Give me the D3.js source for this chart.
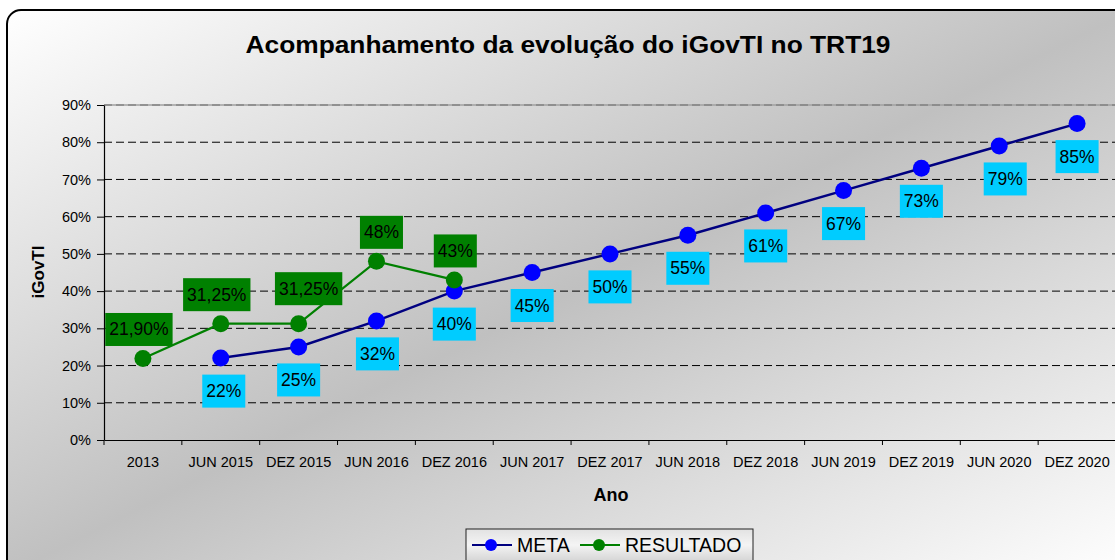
<!DOCTYPE html>
<html><head><meta charset="utf-8">
<script src="https://cdn.jsdelivr.net/npm/d3@7"></script>
<style>
body{margin:0;background:#fff;overflow:hidden}
svg{display:block}
text{font-family:"Liberation Sans",Arial,sans-serif;fill:#000}
</style>
</head><body>
<svg id="chart" width="1115" height="560"></svg>
<script>
// ---- data ----
const categories = ["2013","JUN 2015","DEZ 2015","JUN 2016","DEZ 2016","JUN 2017","DEZ 2017","JUN 2018","DEZ 2018","JUN 2019","DEZ 2019","JUN 2020","DEZ 2020"];
const metaValues = [null,22,25,32,40,45,50,55,61,67,73,79,85];
const metaLabels = ["","22%","25%","32%","40%","45%","50%","55%","61%","67%","73%","79%","85%"];
const resultadoValues = [21.9,31.25,31.25,48,43,null,null,null,null,null,null,null,null];
const resultadoLabels = ["21,90%","31,25%","31,25%","48%","43%","","","","","","","",""];
const yTicks = [0,10,20,30,40,50,60,70,80,90];
const titleText = "Acompanhamento da evolução do iGovTI no TRT19";
const xTitle = "Ano";
const yTitle = "iGovTI";
const seriesNames = ["META","RESULTADO"];

// ---- layout / style ----
const plot = {left:104, right:1116, top:105, bottom:440};
const svg = d3.select("#chart");
const defs = svg.append("defs");
const FONT = "'Liberation Sans',Arial,sans-serif";

const bg = defs.append("linearGradient").attr("id","bgGrad")
  .attr("x1",0).attr("y1",0).attr("x2",1).attr("y2",1);
bg.append("stop").attr("offset",0).attr("stop-color","#ffffff");
bg.append("stop").attr("offset",0.5).attr("stop-color","#c0c0c0");
bg.append("stop").attr("offset",1).attr("stop-color","#ffffff");

const lg = defs.append("linearGradient").attr("id","legGrad")
  .attr("x1",0).attr("y1",0).attr("x2",0).attr("y2",1);
lg.append("stop").attr("offset",0).attr("stop-color","#e2e2e2");
lg.append("stop").attr("offset",0.4).attr("stop-color","#f4f4f4");
lg.append("stop").attr("offset",1).attr("stop-color","#c6c6c6");

// chart area with rounded border
svg.append("rect").attr("x",7).attr("y",10).attr("width",1125).attr("height",565)
  .attr("rx",14).attr("ry",14)
  .attr("fill","url(#bgGrad)").attr("stroke","#000").attr("stroke-width",2);

// scales
const x = d3.scaleBand().domain(categories).range([plot.left, plot.right]).padding(0);
const y = d3.scaleLinear().domain([0,90]).range([plot.bottom, plot.top]);
const cx = c => x(c) + x.bandwidth()/2;

// top border (lighter base)
svg.append("line").attr("x1",plot.left).attr("x2",plot.right)
  .attr("y1",y(90)).attr("y2",y(90)).attr("stroke","#a0a0a0").attr("stroke-width",1.5);
// gridlines
svg.append("g").selectAll("line").data(yTicks.filter(d=>d>0)).join("line")
  .attr("x1",plot.left).attr("x2",plot.right)
  .attr("y1",d=>y(d)).attr("y2",d=>y(d))
  .attr("stroke",d=> d===90 ? "#707070" : "#000")
  .attr("stroke-width",1)
  .attr("stroke-dasharray","8,4");

// y axis
const yAxis = svg.append("g").attr("transform",`translate(${plot.left},0)`)
  .call(d3.axisLeft(y).tickValues(yTicks).tickFormat(d=>d+"%").tickSize(7).tickPadding(6).tickSizeOuter(0));
yAxis.attr("font-size",null).attr("font-family",null);
yAxis.select(".domain").attr("stroke","#000").attr("stroke-width",1.2);
yAxis.selectAll(".tick line").attr("stroke","#000");
yAxis.selectAll(".tick text").style("font-size","14.5px").style("font-family",FONT);

// x axis
const xAxis = svg.append("g").attr("transform",`translate(0,${plot.bottom})`)
  .call(d3.axisBottom(x).tickSize(0).tickPadding(17).tickSizeOuter(0));
xAxis.attr("font-size",null).attr("font-family",null);
xAxis.select(".domain").attr("stroke","#000").attr("stroke-width",1.2);
xAxis.selectAll(".tick text").style("font-size","14.5px").style("font-family",FONT);
xAxis.selectAll("line.bnd").data(categories).join("line").attr("class","bnd")
  .attr("x1",d=>x(d)).attr("x2",d=>x(d)).attr("y1",0).attr("y2",5)
  .attr("stroke","#000").attr("stroke-width",1);

// titles
svg.append("text").attr("x",568).attr("y",53).attr("text-anchor","middle")
  .attr("font-size",23).attr("font-weight","bold")
  .attr("textLength",645).attr("lengthAdjust","spacingAndGlyphs").text(titleText);
svg.append("text").attr("x",611).attr("y",501).attr("text-anchor","middle")
  .attr("font-size",18).attr("font-weight","bold").text(xTitle);
svg.append("text").attr("transform","translate(44,272) rotate(-90)").attr("text-anchor","middle")
  .attr("font-size",17).attr("font-weight","bold").text(yTitle);

// series
const series = [
  {name:seriesNames[0], values:metaValues, labels:metaLabels, line:"#000080", marker:"#0000ff", lw:2.5,
   box:"#00ccff", dy:33, nudge:[0,3,0,1,0,0,0,0,0,0,0,6,0]},
  {name:seriesNames[1], values:resultadoValues, labels:resultadoLabels, line:"#008000", marker:"#008000", lw:2.2,
   box:"#008000", dy:-29, nudge:[-4,-4,10,5,1,0,0,0,0,0,0,0,0]}
];

series.forEach(s=>{
  const pts = categories.map((c,i)=>({c, v:s.values[i], lab:s.labels[i], n:s.nudge[i]})).filter(p=>p.v!==null);
  const line = d3.line().x(p=>cx(p.c)).y(p=>y(p.v));
  svg.append("path").datum(pts).attr("d",line).attr("fill","none")
    .attr("stroke",s.line).attr("stroke-width",s.lw);
  svg.append("g").selectAll("circle").data(pts).join("circle")
    .attr("cx",p=>cx(p.c)).attr("cy",p=>y(p.v)).attr("r",8.5).attr("fill",s.marker);
  s.pts = pts;
});

series.forEach(s=>{
  const g = svg.append("g");
  s.pts.forEach(p=>{
    const extra = (s.dy<0 && p.c==="DEZ 2015") ? -6 : 0;
    const lx = cx(p.c) + p.n, ly = y(p.v) + s.dy + extra;
    const t = g.append("text").attr("x",lx).attr("y",ly).attr("text-anchor","middle")
      .attr("dominant-baseline","central").attr("font-size",17.5).text(p.lab);
    const w = t.node().getComputedTextLength();
    g.insert("rect","text").attr("x",lx - w/2 - 4).attr("y",ly-16.5).attr("width",w+8).attr("height",33)
      .attr("fill",s.box);
  });
});

// legend
const leg = svg.append("g");
leg.append("rect").attr("x",466).attr("y",529).attr("width",287).attr("height",40)
  .attr("fill","url(#legGrad)").attr("stroke","#222").attr("stroke-width",1);
const legItems = [{x0:472, s:series[0]},{x0:580, s:series[1]}];
legItems.forEach(it=>{
  leg.append("line").attr("x1",it.x0).attr("x2",it.x0+40).attr("y1",545).attr("y2",545)
    .attr("stroke",it.s.line).attr("stroke-width",2.2);
  leg.append("circle").attr("cx",it.x0+19).attr("cy",545).attr("r",6).attr("fill",it.s.marker);
  leg.append("text").attr("x",it.x0+45).attr("y",545).attr("dominant-baseline","central")
    .attr("font-size",19.5).text(it.s.name);
});
</script>
</body></html>
